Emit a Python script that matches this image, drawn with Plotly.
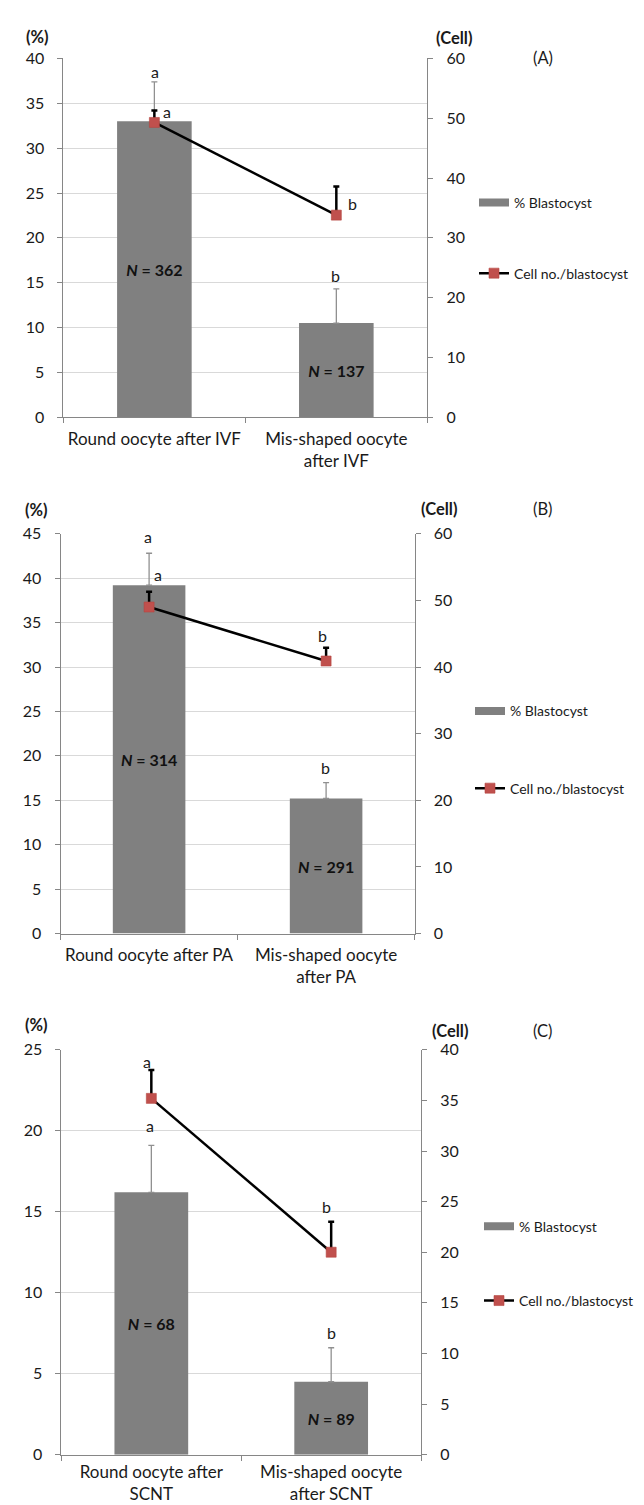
import plotly.graph_objects as go

W, H = 644, 1505
FONT = "Lato, 'Open Sans', sans-serif"
TXT = "#1a1a1a"

# ---------------- data ----------------
cats_A = ["Round oocyte after IVF", "Mis-shaped oocyte<br>after IVF"]
blast_A = [33.0, 10.5]
blast_err_A = [4.4, 3.8]
cells_A = [49.3, 33.8]
cells_err_A = [2.0, 4.8]
n_A = [362, 137]

cats_B = ["Round oocyte after PA", "Mis-shaped oocyte<br>after PA"]
blast_B = [39.2, 15.2]
blast_err_B = [3.6, 1.8]
cells_B = [49.0, 40.9]
cells_err_B = [2.3, 2.0]
n_B = [314, 291]

cats_C = ["Round oocyte after<br>SCNT", "Mis-shaped oocyte<br>after SCNT"]
blast_C = [16.2, 4.5]
blast_err_C = [2.9, 2.1]
cells_C = [35.2, 20.0]
cells_err_C = [2.8, 3.0]
n_C = [68, 89]

blast_sig = ["a", "b"]
cells_sig = ["a", "b"]
panel_tags = ["(A)", "(B)", "(C)"]
left_ranges = [[0, 40], [0, 45], [0, 25]]
right_ranges = [[0, 60], [0, 60], [0, 40]]
right_dticks = [10, 10, 5]

# ---------------- layout (pixels) ----------------
panels = [
    dict(cats=cats_A, blast=blast_A, berr=blast_err_A, cells=cells_A, cerr=cells_err_A, n=n_A,
         box=(55.4, 419.3, 41, 404.3),
         pct=(29.6, 19.5), cell=(445.6, 20), tag=(535, 41),
         leg=(466, 171), gap=49.5, xstand=6,
         bshift=[(1, 10), (-1, 13)], cshift=[(13, -1), (16, -17)]),
    dict(cats=cats_B, blast=blast_B, berr=blast_err_B, cells=cells_B, cerr=cells_err_B, n=n_B,
         box=(52.6, 406.6, 522.3, 927.3),
         pct=(28, 498), cell=(431.2, 497), tag=(534, 497),
         leg=(462, 686), gap=56, xstand=6,
         bshift=[(-1, 17), (-1, 15)], cshift=[(9, 17), (-4, 12)]),
    dict(cats=cats_C, blast=blast_C, berr=blast_err_C, cells=cells_C, cerr=cells_err_C, n=n_C,
         box=(53.4, 413.1, 1045, 1455),
         pct=(28, 1020), cell=(441.5, 1025.7), tag=(534.7, 1026),
         leg=(471, 1208), gap=53, xstand=2,
         bshift=[(-1, 20), (0, 15)], cshift=[(-4, 9), (-5, 15)]),
]

def px(x):
    return x / W

def py(y):
    return 1 - y / H

fig = go.Figure()
annotations = []
layout = dict()

for i, p in enumerate(panels):
    xn = "x" if i == 0 else f"x{i+1}"
    y1 = f"y{2*i+1}" if i > 0 else "y"
    y2 = f"y{2*i+2}"
    lg = "legend" if i == 0 else f"legend{i+1}"
    l, r, t, b = p["box"]

    fig.add_trace(go.Bar(
        x=p["cats"], y=p["blast"], xaxis=xn, yaxis=y1,
        marker=dict(color="#808080", line=dict(width=0)),
        width=0.41,
        error_y=dict(type="data", array=p["berr"], arrayminus=[0] * len(p["berr"]),
                     symmetric=False, color="#909090", thickness=1.3, width=3),
        text=[f"<b><i>N</i> = {v}</b>" for v in p["n"]],
        textposition="inside", insidetextanchor="middle", textangle=0,
        constraintext="none",
        textfont=dict(family=FONT, size=16, color="#111111"),
        name="% Blastocyst", showlegend=False,
        hoverinfo="skip", cliponaxis=False,
    ))
    # legend swatch for the bars (wide grey bar symbol, as in the original)
    fig.add_trace(go.Scatter(
        x=[None], y=[None], xaxis=xn, yaxis=y1, mode="lines",
        line=dict(color="#808080", width=8),
        name="% Blastocyst", legend=lg, legendgroup=f"bar{i}",
        hoverinfo="skip",
    ))
    fig.add_trace(go.Scatter(
        x=p["cats"], y=p["cells"], xaxis=xn, yaxis=y2,
        mode="lines+markers",
        line=dict(color="black", width=2.5),
        marker=dict(symbol="square", size=10, color="#c0504d",
                    line=dict(width=0.6, color="#b5453f")),
        error_y=dict(type="data", array=p["cerr"], arrayminus=[0] * len(p["cerr"]),
                     symmetric=False, color="black", thickness=2.5, width=3),
        name="Cell no./blastocyst", legend=lg, legendgroup=f"line{i}",
        hoverinfo="skip", cliponaxis=False,
    ))

    axfont = dict(family=FONT, size=16, color=TXT)
    layout["xaxis" if i == 0 else f"xaxis{i+1}"] = dict(
        domain=[px(l), px(r)], anchor=y1, type="category",
        range=[-0.5, len(p["cats"]) - 0.5], tickson="boundaries",
        ticks="outside", ticklen=5, tickcolor="#868686",
        ticklabelstandoff=p["xstand"], tickangle=0,
        showline=True, linecolor="#868686", linewidth=1,
        showgrid=False, zeroline=False,
        tickfont=dict(family=FONT, size=17, color=TXT),
        fixedrange=True,
    )
    layout["yaxis" if i == 0 else f"yaxis{2*i+1}"] = dict(
        domain=[py(b), py(t)], anchor=xn, range=left_ranges[i], dtick=5,
        showgrid=True, gridcolor="#d9d9d9", gridwidth=1,
        showline=True, linecolor="#868686", linewidth=1,
        ticks="outside", ticklen=5, tickcolor="#868686",
        ticklabelstandoff=10,
        zeroline=False, tickfont=axfont, fixedrange=True,
    )
    layout[f"yaxis{2*i+2}"] = dict(
        overlaying=y1, side="right", anchor=xn,
        range=right_ranges[i], dtick=right_dticks[i],
        showgrid=False, showline=True, linecolor="#868686", linewidth=1,
        ticks="outside", ticklen=5, tickcolor="#868686",
        ticklabelstandoff=10,
        zeroline=False, tickfont=axfont, fixedrange=True,
    )
    lx, ly = p["leg"]
    layout[lg] = dict(
        x=px(lx), y=py(ly), xanchor="left", yanchor="top",
        xref="paper", yref="paper",
        bgcolor="rgba(0,0,0,0)", borderwidth=0,
        font=dict(family=FONT, size=14, color=TXT),
        traceorder="grouped", tracegroupgap=p["gap"],
        itemwidth=30,
    )

    # axis unit labels and panel tag
    for key, txt, bold in (("pct", "(%)", True), ("cell", "(Cell)", True), ("tag", panel_tags[i], False)):
        ax_, ay_ = p[key]
        annotations.append(dict(
            x=px(ax_), y=py(ay_), xref="paper", yref="paper",
            xanchor="center", yanchor="middle", showarrow=False,
            text=f"<b>{txt}</b>" if bold else txt,
            font=dict(family=FONT, size=16.5, color=TXT),
        ))

    # significance letters
    for j, c in enumerate(p["cats"]):
        dx, dy = p["bshift"][j]
        annotations.append(dict(
            x=c, y=p["blast"][j] + p["berr"][j], xref=xn, yref=y1,
            xshift=dx, yshift=dy, showarrow=False, text=blast_sig[j],
            xanchor="center", yanchor="middle",
            font=dict(family=FONT, size=16, color=TXT),
        ))
        dx, dy = p["cshift"][j]
        annotations.append(dict(
            x=c, y=p["cells"][j] + p["cerr"][j], xref=xn, yref=y2,
            xshift=dx, yshift=dy, showarrow=False, text=cells_sig[j],
            xanchor="center", yanchor="middle",
            font=dict(family=FONT, size=16, color=TXT),
        ))

fig.update_layout(
    width=W, height=H, autosize=False,
    margin=dict(l=0, r=0, t=0, b=0),
    paper_bgcolor="white", plot_bgcolor="white",
    bargap=0.59, showlegend=True,
    annotations=annotations,
    font=dict(family=FONT, color=TXT),
    **layout,
)

fig.write_html("out.html", config={"displayModeBar": False})
